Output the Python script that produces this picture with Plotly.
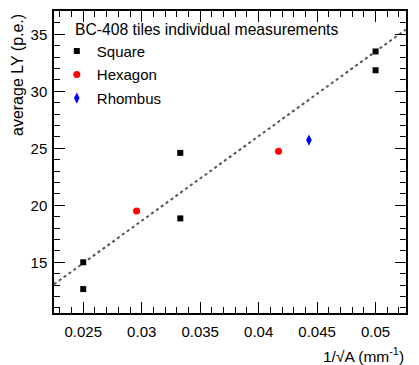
import plotly.graph_objects as go

# 1/sqrt(A) in mm^-1 and average light yield in p.e.
square_x = [0.025, 0.025, 0.0333, 0.0333, 0.05, 0.05]
square_y = [15.0, 12.65, 24.6, 18.85, 33.5, 31.85]
hexagon_x = [0.02956, 0.0417]
hexagon_y = [19.5, 24.75]
rhombus_x = [0.0443]
rhombus_y = [25.72]
rhombus_err = [0.3]

# linear fit parameters
fit_slope = 743.0
fit_offset = -3.65

x_range = [0.0225, 0.0526]
y_range = [10.55, 37.05]

fit_x = x_range
fit_y = [fit_slope * v + fit_offset for v in fit_x]

fig = go.Figure()
fig.add_trace(go.Scatter(
    x=fit_x, y=fit_y, mode="lines", showlegend=False,
    line=dict(color="#555555", width=2, dash="dot"), hoverinfo="skip"
))
fig.add_trace(go.Scatter(
    x=square_x, y=square_y, mode="markers", name="Square", legendgroup="sq",
    marker=dict(symbol="square", color="black", size=6)
))
fig.add_trace(go.Scatter(
    x=hexagon_x, y=hexagon_y, mode="markers", name="Hexagon", legendgroup="hx",
    marker=dict(symbol="circle", color="red", size=7)
))
fig.add_trace(go.Scatter(
    x=rhombus_x, y=rhombus_y, mode="markers", name="Rhombus", legendgroup="rh",
    marker=dict(symbol="diamond-tall", color="blue", size=8),
    error_y=dict(type="data", array=rhombus_err, color="blue", thickness=1.5, width=0)
))

axis_style = dict(
    showgrid=False, zeroline=False, showline=True, linecolor="black", linewidth=1.5,
    mirror="ticks", ticks="inside", ticklen=11, tickcolor="black", tickwidth=1,
    tickfont=dict(size=15, color="black"), automargin=False,
)

# the page body adds an 8px margin, so the figure is laid out 8px smaller
fig.update_layout(
    width=411, height=357,
    margin=dict(l=46, r=13, t=3, b=52),
    plot_bgcolor="white", paper_bgcolor="white",
    font=dict(family="Liberation Sans, Arial, sans-serif", size=15, color="black"),
    xaxis=dict(
        **axis_style, range=x_range, tick0=0.025, dtick=0.005, ticklabelstandoff=4,
        minor=dict(dtick=0.001, tick0=0.025, ticks="inside", ticklen=6, tickcolor="black"),
    ),
    yaxis=dict(
        **axis_style, range=y_range, tick0=15, dtick=5, ticklabelstandoff=2,
        minor=dict(dtick=1, tick0=15, ticks="inside", ticklen=6, tickcolor="black"),
    ),
    legend=dict(
        x=0.008, y=0.921, xanchor="left", yanchor="top",
        bgcolor="rgba(0,0,0,0)", font=dict(size=15), tracegroupgap=1,
    ),
    annotations=[
        dict(text="BC-408 tiles individual measurements", xref="paper", yref="paper",
             x=0.054, y=1, xanchor="left", yanchor="middle", yshift=-18,
             showarrow=False, font=dict(size=15.7)),
        dict(text="1/√A (mm<sup>-1</sup>)", xref="paper", yref="paper",
             x=1, y=0, xanchor="right", yanchor="middle", yshift=-42,
             showarrow=False, font=dict(size=15.5)),
        dict(text="average LY (p.e.)", xref="paper", yref="paper", textangle=-90,
             x=0, y=1, xanchor="center", yanchor="top", xshift=-37, yshift=-1,
             showarrow=False, font=dict(size=16)),
    ],
)

fig.write_html("out.html")
